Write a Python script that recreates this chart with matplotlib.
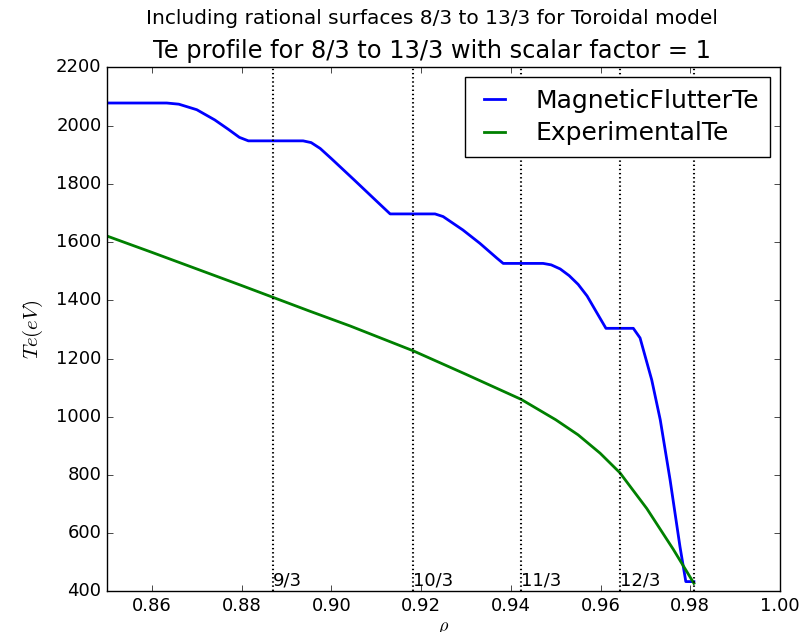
"""Te profile with rational surfaces 8/3 to 13/3 (toroidal model)."""

import matplotlib
matplotlib.use("Agg")
import matplotlib.pyplot as plt

plt.style.use("classic")

# blue curve: MagneticFlutterTe
rho_mf = [0.850, 0.8633, 0.866, 0.870, 0.874, 0.877, 0.8795, 0.8815,
          0.8937, 0.8955, 0.8975, 0.900, 0.905, 0.910, 0.9131,
          0.9231, 0.9249, 0.9293, 0.9331, 0.9369, 0.9383,
          0.9472, 0.949, 0.951, 0.953, 0.955, 0.957, 0.959, 0.9612,
          0.9673, 0.9688, 0.9714, 0.9733, 0.9755, 0.9777, 0.9790, 0.9808]
te_mf = [2078, 2078, 2074, 2055, 2020, 1988, 1960, 1948,
         1948, 1942, 1922, 1887, 1815, 1742, 1697,
         1697, 1688, 1642, 1596, 1545, 1527,
         1527, 1522, 1508, 1485, 1455, 1415, 1362, 1304,
         1304, 1271, 1127, 990, 783, 554, 434, 434]

# green curve: ExperimentalTe
rho_exp = [0.850, 0.860, 0.870, 0.880, 0.8869, 0.895, 0.9042, 0.9182,
           0.930, 0.9423, 0.950, 0.955, 0.9599, 0.9643, 0.9703, 0.9762,
           0.9799, 0.9808]
te_exp = [1621, 1565, 1508, 1451, 1411, 1364, 1312, 1227,
          1146, 1060, 990, 938, 875, 808, 685, 545,
          451, 428]

# rational surfaces
surf_rho = [0.8869, 0.9182, 0.9423, 0.9643, 0.9808]
surf_lbl = ["9/3", "10/3", "11/3", "12/3", ""]


def main():
    fig = plt.figure(figsize=(8.03, 6.32), dpi=100, facecolor="white")
    ax = fig.add_axes([0.1333, 0.0641, 0.8381, 0.8291])

    ax.plot(rho_mf, te_mf, color="b", lw=2, label="MagneticFlutterTe")
    ax.plot(rho_exp, te_exp, color="g", lw=2, label="ExperimentalTe")

    for r, lbl in zip(surf_rho, surf_lbl):
        ax.axvline(r, color="k", lw=1.5, linestyle=(0, (1, 2)))
        if lbl:
            ax.text(r, 422, lbl, fontsize=13, ha="left", va="baseline")

    ax.set_xlim(0.85, 1.00)
    ax.set_ylim(400, 2200)
    ax.set_xticks([0.86, 0.88, 0.90, 0.92, 0.94, 0.96, 0.98, 1.00])
    ax.set_xticklabels(["0.86", "0.88", "0.90", "0.92", "0.94", "0.96",
                        "0.98", "1.00"])
    ax.tick_params(labelsize=13)
    ax.set_xlabel(r"$\rho$", fontsize=13, labelpad=2)
    ax.set_ylabel(r"$Te(eV)$", fontsize=15, labelpad=8)
    ax.set_title("Te profile for 8/3 to 13/3 with scalar factor = 1",
                 fontsize=17.4, x=0.483, y=1.005)
    fig.suptitle("Including rational surfaces 8/3 to 13/3 for Toroidal model",
                 fontsize=14.5, x=0.538, y=0.985)
    ax.legend(loc="upper right", fontsize=18, handlelength=1.45,
              handletextpad=0.9, borderaxespad=0.4, borderpad=0.45,
              labelspacing=0.35)

    fig.savefig("out.png", dpi=100, facecolor="white")


if __name__ == "__main__":
    main()
